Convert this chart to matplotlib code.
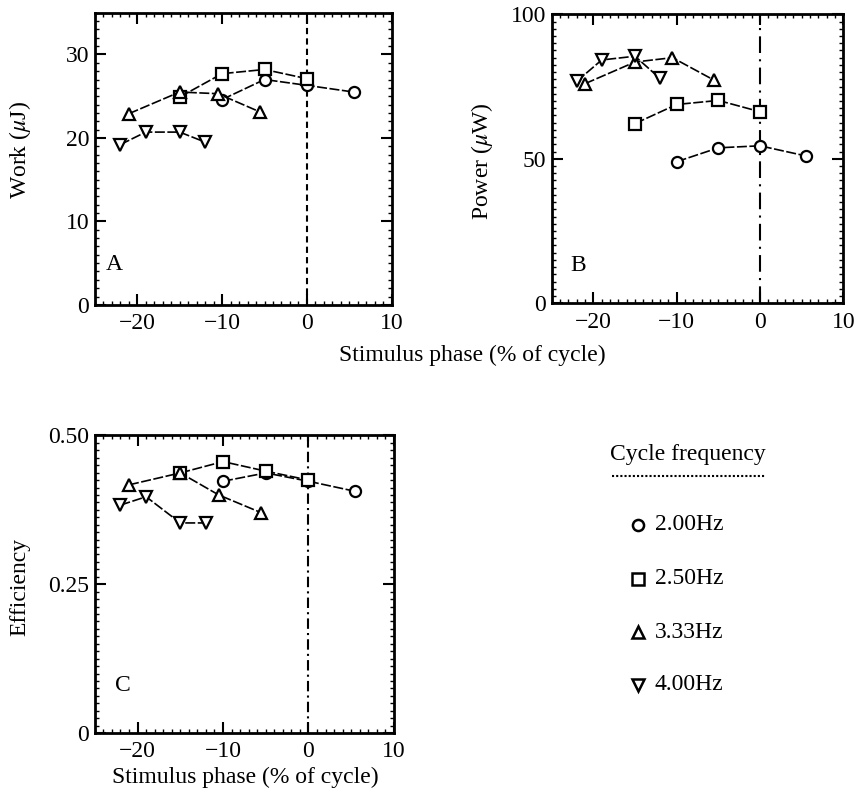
import matplotlib
matplotlib.use("Agg")
import matplotlib.pyplot as plt
from matplotlib.ticker import MultipleLocator, FuncFormatter

plt.rcParams["font.family"] = ["Liberation Serif", "DejaVu Serif"]
plt.rcParams["mathtext.fontset"] = "stix"
plt.rcParams["font.size"] = 17

freqs = ["2.00Hz", "2.50Hz", "3.33Hz", "4.00Hz"]
markers = ["o", "s", "^", "v"]

# stimulus phase (% of cycle) per frequency
phase_200 = [-10, -5, 0, 5.5]
phase_250 = [-15, -10, -5, 0]
phase_333 = [-21, -15, -10.5, -5.5]
phase_400 = [-22, -19, -15, -12]

# A: work (uJ)
work_200 = [24.6, 27.0, 26.3, 25.5]
work_250 = [24.9, 27.7, 28.2, 27.1]
work_333 = [22.9, 25.5, 25.3, 23.1]
work_400 = [19.2, 20.7, 20.7, 19.5]

# B: power (uW)
power_200 = [49.0, 53.8, 54.5, 51.0]
power_250 = [62.2, 68.8, 70.2, 66.3]
power_333 = [76.0, 83.5, 85.0, 77.2]
power_400 = [76.8, 84.2, 85.5, 77.8]

# C: efficiency
eff_200 = [0.423, 0.437, 0.423, 0.406]
eff_250 = [0.437, 0.456, 0.440, 0.425]
eff_333 = [0.417, 0.437, 0.400, 0.370]
eff_400 = [0.383, 0.397, 0.353, 0.353]

phases = [phase_200, phase_250, phase_333, phase_400]


def fmt_tick(v, pos):
    if abs(v) < 1e-9:
        return "0"
    return f"{v:g}".replace("-", "\u2212")


def style(ax, ylim, ymajor, yminor, yfmt=None):
    ax.set_xlim(-25, 10)
    ax.set_ylim(*ylim)
    ax.xaxis.set_major_locator(MultipleLocator(10))
    ax.xaxis.set_minor_locator(MultipleLocator(1))
    ax.yaxis.set_major_locator(MultipleLocator(ymajor))
    ax.yaxis.set_minor_locator(MultipleLocator(yminor))
    ax.xaxis.set_major_formatter(FuncFormatter(fmt_tick))
    ax.yaxis.set_major_formatter(yfmt or FuncFormatter(fmt_tick))
    ax.tick_params(which="both", direction="in", top=True, right=True)
    ax.tick_params(which="major", length=8, width=1.5, labelsize=17, pad=4)
    ax.tick_params(which="minor", length=3, width=1.0)
    ax.tick_params(axis="x", which="major", pad=6)
    for sp in ax.spines.values():
        sp.set_linewidth(2.0)


def draw(ax, series, vls):
    ax.axvline(0, color="black", lw=1.5, ls=vls, zorder=1)
    for x, y, m in zip(phases, series, markers):
        ax.plot(x, y, color="black", lw=1.2, ls=(0, (6, 1.5)), marker=m,
                markersize=8, markerfacecolor="white", markeredgecolor="black",
                markeredgewidth=1.6, zorder=3)


fig = plt.figure(figsize=(8.62, 7.96), dpi=100)

axA = fig.add_axes([0.110, 0.617, 0.3445, 0.367])
draw(axA, [work_200, work_250, work_333, work_400], (0, (3, 2)))
style(axA, (0, 35), 10, 1)
axA.text(0.067, 0.137, "A", transform=axA.transAxes, ha="center", va="center", fontsize=17)

axB = fig.add_axes([0.640, 0.619, 0.3383, 0.363])
draw(axB, [power_200, power_250, power_333, power_400], (0, (8, 3, 1, 3)))
style(axB, (0, 100), 50, 2.5)
axB.text(0.09, 0.13, "B", transform=axB.transAxes, ha="center", va="center", fontsize=17)

axC = fig.add_axes([0.110, 0.079, 0.347, 0.374])
draw(axC, [eff_200, eff_250, eff_333, eff_400], (0, (5, 2, 1, 2)))
style(axC, (0, 0.5), 0.25, 0.0125,
      FuncFormatter(lambda v, p: "0" if abs(v) < 1e-9 else f"{v:.2f}"))
axC.text(0.094, 0.16, "C", transform=axC.transAxes, ha="center", va="center", fontsize=17)

fig.text(20 / 862, 1 - 150 / 796, r"Work ($\mu$J)", rotation=90, ha="center", va="center")
fig.text(482 / 862, 1 - 161 / 796, r"Power ($\mu$W)", rotation=90, ha="center", va="center")
fig.text(20 / 862, 1 - 587 / 796, "Efficiency", rotation=90, ha="center", va="center")
fig.text(472 / 862, 1 - 355 / 796, "Stimulus phase (% of cycle)", ha="center", va="center")
fig.text(245 / 862, 1 - 777 / 796, "Stimulus phase (% of cycle)", ha="center", va="center")

# legend
fig.text(688 / 862, 1 - 455 / 796, "Cycle frequency", ha="center", va="center")
fig.add_artist(plt.Line2D([612 / 862, 765 / 862], [1 - 476 / 796, 1 - 476 / 796],
                          color="black", lw=1.5, ls=(0, (1, 1))))
leg_y = [525, 579, 632, 685]
for m, lab, yy in zip(markers, freqs, leg_y):
    fig.add_artist(plt.Line2D([638 / 862], [1 - yy / 796], marker=m, markersize=8,
                              markerfacecolor="white", markeredgecolor="black",
                              markeredgewidth=1.8, color="black"))
    fig.text(655 / 862, 1 - yy / 796, lab, ha="left", va="center")

fig.savefig("out.png", dpi=100)
